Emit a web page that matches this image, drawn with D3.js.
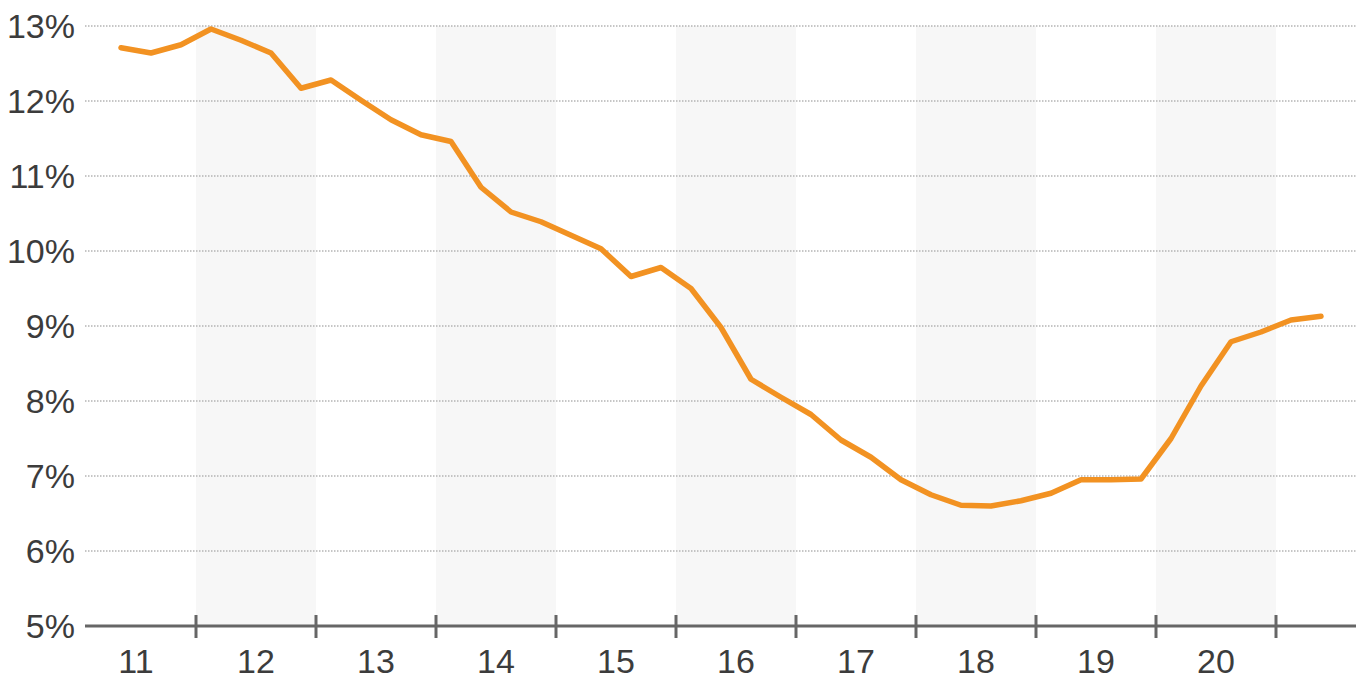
<!DOCTYPE html>
<html>
<head>
<meta charset="utf-8">
<script src="https://cdn.jsdelivr.net/npm/d3@7"></script>
<style>
  html, body { margin: 0; padding: 0; background: #fff; }
  svg { display: block; font-family: "Liberation Sans", Arial, sans-serif; }
</style>
</head>
<body>
<svg id="chart" width="1361" height="682"></svg>
<script>
// ---- data ----
const yearLabels = ["11", "12", "13", "14", "15", "16", "17", "18", "19", "20"];
const shadedYears = ["12", "14", "16", "18", "20"];
const yTicks = [5, 6, 7, 8, 9, 10, 11, 12, 13];
const quarters = [
  "2011Q2","2011Q3","2011Q4",
  "2012Q1","2012Q2","2012Q3","2012Q4",
  "2013Q1","2013Q2","2013Q3","2013Q4",
  "2014Q1","2014Q2","2014Q3","2014Q4",
  "2015Q1","2015Q2","2015Q3","2015Q4",
  "2016Q1","2016Q2","2016Q3","2016Q4",
  "2017Q1","2017Q2","2017Q3","2017Q4",
  "2018Q1","2018Q2","2018Q3","2018Q4",
  "2019Q1","2019Q2","2019Q3","2019Q4",
  "2020Q1","2020Q2","2020Q3","2020Q4",
  "2021Q1","2021Q2"
];
const values = [
  12.71, 12.64, 12.75,
  12.96, 12.81, 12.64, 12.17,
  12.28, 12.01, 11.75, 11.55,
  11.46, 10.85, 10.52, 10.39,
  10.21, 10.03, 9.66, 9.78,
  9.50, 8.98, 8.29, 8.05,
  7.82, 7.48, 7.25, 6.95,
  6.75, 6.61, 6.60, 6.67,
  6.77, 6.95, 6.95, 6.96,
  7.50, 8.20, 8.79, 8.92,
  9.08, 9.13
];

// ---- layout ----
const svg = d3.select("#chart");
const plotLeft = 85, plotRight = 1356;
const yTop = 26, yBottom = 626;

// time as fractional year; quarter points sit at the middle of each quarter
const toT = q => +q.slice(0, 4) + (+q.slice(5) - 1) / 4 + 0.125;

const x = d3.scaleLinear().domain([2011, 2021]).range([76, 1276]);
const y = d3.scaleLinear().domain([5, 13]).range([yBottom, yTop]);

// shaded year bands
svg.append("g").selectAll("rect")
  .data(shadedYears)
  .join("rect")
  .attr("x", d => x(2000 + +d))
  .attr("width", d => x(2001 + +d) - x(2000 + +d))
  .attr("y", y(13))
  .attr("height", y(5) - y(13))
  .attr("fill", "#f7f7f7");

// dotted gridlines
svg.append("g").selectAll("line")
  .data(yTicks.filter(d => d > 5))
  .join("line")
  .attr("x1", plotLeft).attr("x2", plotRight)
  .attr("y1", d => y(d)).attr("y2", d => y(d))
  .attr("stroke", "#b4b4b4")
  .attr("stroke-width", 1.5)
  .attr("stroke-dasharray", "1.5,1.5");

// y labels
svg.append("g").selectAll("text")
  .data(yTicks)
  .join("text")
  .attr("x", 75)
  .attr("y", d => y(d) + 12)
  .attr("text-anchor", "end")
  .attr("font-size", 34)
  .attr("fill", "#3c3c3c")
  .text(d => d + "%");

// x axis line
svg.append("line")
  .attr("x1", plotLeft).attr("x2", plotRight)
  .attr("y1", y(5)).attr("y2", y(5))
  .attr("stroke", "#666")
  .attr("stroke-width", 3);

// x ticks at year boundaries
const boundaryYears = yearLabels.map(d => 2001 + +d);
svg.append("g").selectAll("line")
  .data(boundaryYears)
  .join("line")
  .attr("x1", d => x(d)).attr("x2", d => x(d))
  .attr("y1", y(5) - 11).attr("y2", y(5) + 12)
  .attr("stroke", "#666")
  .attr("stroke-width", 3);

// x labels centred in year bands
svg.append("g").selectAll("text")
  .data(yearLabels)
  .join("text")
  .attr("x", d => x(2000 + +d + 0.5))
  .attr("y", 673)
  .attr("text-anchor", "middle")
  .attr("font-size", 34)
  .attr("fill", "#3c3c3c")
  .text(d => d);

// line
const pts = quarters.map((q, i) => ({ t: toT(q), v: values[i] }));
svg.append("path")
  .datum(pts)
  .attr("d", d3.line().x(d => x(d.t)).y(d => y(d.v)))
  .attr("fill", "none")
  .attr("stroke", "#f29222")
  .attr("stroke-width", 5.5)
  .attr("stroke-linejoin", "round")
  .attr("stroke-linecap", "round");
</script>
</body>
</html>
